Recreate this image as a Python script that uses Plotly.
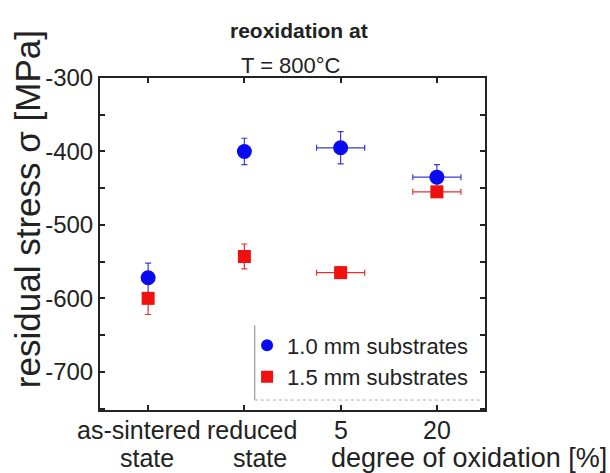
import plotly.graph_objects as go

# Sample states along the x axis
tick_first_line = ["as-sintered", "reduced", "5", "20"]
tick_second_line = ["state", "state", "", ""]
x_pos = [1, 2, 3, 4]

# Residual stress (MPa) and uncertainties, 1.0 mm substrates
stress_10 = [-572, -400, -395, -435]
stress_10_err = [20, 18, 22, 17]
stress_10_xerr = [0, 0, 0.25, 0.25]

# Residual stress (MPa) and uncertainties, 1.5 mm substrates
stress_15 = [-600, -543, -565, -455]
stress_15_err_plus = [4, 17, 8, 6]
stress_15_err_minus = [22, 17, 8, 6]
stress_15_xerr = [0, 0, 0.25, 0.25]

y_ticks = [-300, -400, -500, -600, -700]

FONT = "Liberation Sans, Arial, sans-serif"
INK = "#222"

fig = go.Figure()
fig.add_trace(go.Scatter(
    x=x_pos, y=stress_10, mode="markers", name="1.0 mm substrates",
    marker=dict(symbol="circle", size=15, color="#0a0af0"),
    error_y=dict(type="data", array=stress_10_err, color="#3a3ad8", thickness=1.2, width=3),
    error_x=dict(type="data", array=stress_10_xerr, color="#3a3ad8", thickness=1.2, width=3),
))
fig.add_trace(go.Scatter(
    x=x_pos, y=stress_15, mode="markers", name="1.5 mm substrates",
    marker=dict(symbol="square", size=13, color="#f01010"),
    error_y=dict(type="data", symmetric=False, array=stress_15_err_plus,
                 arrayminus=stress_15_err_minus, color="#e83030", thickness=1.2, width=3),
    error_x=dict(type="data", array=stress_15_xerr, color="#e83030", thickness=1.2, width=3),
))

fig.update_layout(
    width=610, height=473,
    margin=dict(l=100, r=125, t=78, b=63),
    paper_bgcolor="white", plot_bgcolor="white",
    font=dict(family=FONT, color=INK),
    showlegend=True,
    legend=dict(
        x=0.382, y=0.258, xanchor="left", yanchor="top",
        bgcolor="rgba(0,0,0,0)", borderwidth=0,
        font=dict(size=22, family=FONT, color=INK),
        itemsizing="constant", tracegroupgap=0, itemwidth=30,
    ),
)

fig.update_xaxes(
    range=[0.5, 4.5], tickmode="array", tickvals=x_pos, showticklabels=False,
    ticks="inside", ticklen=5, tickwidth=1.5, tickcolor=INK,
    showline=True, linecolor=INK, linewidth=2, mirror="ticks",
    showgrid=False, zeroline=False,
)
fig.update_yaxes(
    range=[-752, -300], tickmode="array", tickvals=y_ticks,
    ticktext=[str(v) for v in y_ticks],
    ticks="inside", ticklen=5, tickwidth=1.5, tickcolor=INK,
    minor=dict(dtick=50, tick0=-300, ticks="inside", ticklen=5, tickcolor=INK),
    showline=True, linecolor=INK, linewidth=2, mirror="ticks",
    showgrid=False, zeroline=False,
    tickfont=dict(size=24, family=FONT, color=INK),
)

# Two-row category labels under the x axis
label_shift = [-9, 8, 0, 0]
for xv, first, second, dx in zip(x_pos, tick_first_line, tick_second_line, label_shift):
    fig.add_annotation(text=first, xref="x", yref="paper", x=xv, y=0,
                       xshift=dx, yshift=-20, xanchor="center", yanchor="middle",
                       showarrow=False, font=dict(size=25, family=FONT, color=INK))
    if second:
        fig.add_annotation(text=second, xref="x", yref="paper", x=xv, y=0,
                           xshift=dx + 8, yshift=-48, xanchor="center", yanchor="middle",
                           showarrow=False, font=dict(size=25, family=FONT, color=INK))
fig.add_annotation(text="degree of oxidation [%]", xref="paper", yref="paper",
                   x=1.0, y=0, xshift=124, yshift=-48, xanchor="right", yanchor="middle",
                   showarrow=False, font=dict(size=27, family=FONT, color=INK))

# Y axis title
fig.add_annotation(text="residual stress σ [MPa]", xref="paper", yref="paper",
                   x=0, y=0.605, xshift=-73, xanchor="center", yanchor="middle",
                   textangle=-90, showarrow=False,
                   font=dict(size=35, family=FONT, color=INK))

# Heading above the plot
fig.add_annotation(text="<b>reoxidation at</b>", xref="paper", yref="paper",
                   x=0.5, y=1, xshift=6, yshift=48, xanchor="center", yanchor="middle",
                   showarrow=False, font=dict(size=21, family=FONT, color=INK))
fig.add_annotation(text="T = 800°C", xref="paper", yref="paper",
                   x=0.5, y=1, xshift=-2, yshift=13, xanchor="center", yanchor="middle",
                   showarrow=False, font=dict(size=22, family=FONT, color=INK))

# Legend frame: solid left edge, dotted lower edge
fig.add_shape(type="line", xref="paper", yref="paper", x0=0.402, x1=0.402, y0=0.03, y1=0.255,
              line=dict(color="#888", width=1))
fig.add_shape(type="line", xref="paper", yref="paper", x0=0.402, x1=0.995, y0=0.03, y1=0.03,
              line=dict(color="#aaa", width=1, dash="dot"))

fig.write_html("out.html")
